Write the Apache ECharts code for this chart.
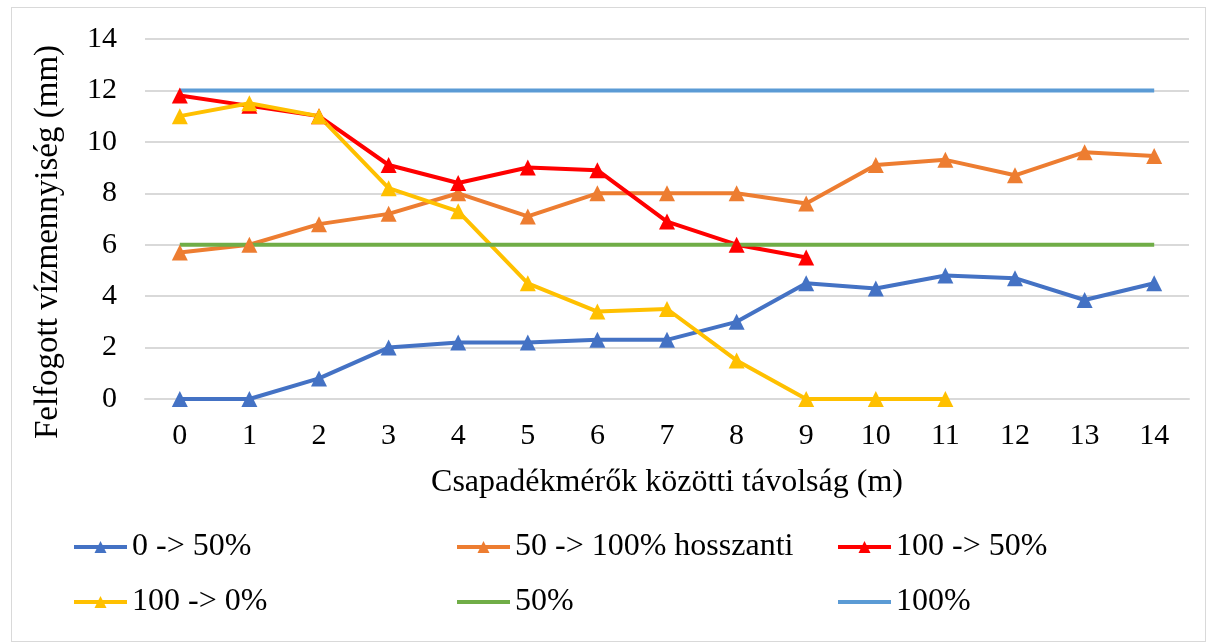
<!DOCTYPE html>
<html>
<head>
<meta charset="utf-8">
<script src="https://cdn.jsdelivr.net/npm/echarts@6/dist/echarts.min.js"></script>
<style>
  html, body { margin: 0; padding: 0; background: #fff; }
  #frame { position: absolute; left: 11px; top: 7px; width: 1193px; height: 633px; border: 1px solid #d9d9d9; }
  #chart { position: absolute; left: 0; top: 0; width: 1213px; height: 644px; }
</style>
</head>
<body>
<div id="frame"></div>
<div id="chart"></div>
<script>
var distances = ['0', '1', '2', '3', '4', '5', '6', '7', '8', '9', '10', '11', '12', '13', '14'];
var s0to50 = [0, 0, 0.8, 2.0, 2.2, 2.2, 2.3, 2.3, 3.0, 4.5, 4.3, 4.8, 4.7, 3.85, 4.5];
var s50to100 = [5.7, 6.0, 6.8, 7.2, 8.0, 7.1, 8.0, 8.0, 8.0, 7.6, 9.1, 9.3, 8.7, 9.6, 9.45];
var s100to50 = [11.8, 11.4, 11.0, 9.1, 8.4, 9.0, 8.9, 6.9, 6.0, 5.5];
var s100to0 = [11.0, 11.5, 11.0, 8.2, 7.3, 4.5, 3.4, 3.5, 1.5, 0, 0, 0];
var s50 = [6, 6, 6, 6, 6, 6, 6, 6, 6, 6, 6, 6, 6, 6, 6];
var s100 = [12, 12, 12, 12, 12, 12, 12, 12, 12, 12, 12, 12, 12, 12, 12];

var font = '"Liberation Serif", "Times New Roman", serif';

function markerLine(name, data, color) {
  return {
    name: name,
    type: 'line',
    data: data,
    symbol: 'triangle',
    symbolSize: 16,
    lineStyle: { width: 4, color: color },
    itemStyle: { color: color },
    animation: false
  };
}

function plainLine(name, data, color) {
  return {
    name: name,
    type: 'line',
    data: data,
    symbol: 'none',
    lineStyle: { width: 4, color: color },
    itemStyle: { color: color },
    animation: false
  };
}

// one legend per item so each sits in its own column
function legendAt(name, left, top, noMarker) {
  var item = { name: name };
  if (noMarker) item.itemStyle = { opacity: 0 };
  return {
    data: [item],
    left: left,
    top: top,
    padding: 0,
    itemWidth: 53,
    itemHeight: 15,
    lineStyle: { width: 4 },
    textStyle: { fontFamily: font, fontSize: 32, color: '#000' }
  };
}

echarts.init(document.getElementById('chart')).setOption({
  backgroundColor: 'transparent',
  grid: { left: 145, right: 24, top: 39, bottom: 245 },
  legend: [
    legendAt('0 -> 50%', 72, 531),
    legendAt('50 -> 100% hosszanti', 455, 531),
    legendAt('100 -> 50%', 836, 531),
    legendAt('100 -> 0%', 72, 586),
    legendAt('50%', 455, 586, true),
    legendAt('100%', 836, 586, true)
  ],
  xAxis: {
    type: 'category',
    data: distances,
    name: 'Csapadékmérők közötti távolság (m)',
    nameLocation: 'middle',
    nameGap: 68,
    nameTextStyle: { fontFamily: font, fontSize: 32, color: '#000' },
    axisLine: { show: true, lineStyle: { color: '#d9d9d9', width: 2 } },
    axisTick: { show: false },
    axisLabel: { fontFamily: font, fontSize: 30, color: '#000', margin: 22 }
  },
  yAxis: {
    type: 'value',
    min: 0,
    max: 14,
    interval: 2,
    name: 'Felfogott vízmennyiség (mm)',
    nameLocation: 'middle',
    nameGap: 80,
    nameRotate: 90,
    nameTextStyle: { fontFamily: font, fontSize: 33, color: '#000', padding: [0, 46, 0, 0] },
    axisLine: { show: false },
    axisTick: { show: false },
    axisLabel: { fontFamily: font, fontSize: 30, color: '#000', margin: 28 },
    splitLine: { lineStyle: { color: '#d9d9d9', width: 2 } }
  },
  series: [
    markerLine('0 -> 50%', s0to50, '#4472c4'),
    markerLine('50 -> 100% hosszanti', s50to100, '#ed7d31'),
    markerLine('100 -> 50%', s100to50, '#ff0000'),
    markerLine('100 -> 0%', s100to0, '#ffc000'),
    plainLine('50%', s50, '#70ad47'),
    plainLine('100%', s100, '#5b9bd5')
  ]
});
</script>
</body>
</html>
